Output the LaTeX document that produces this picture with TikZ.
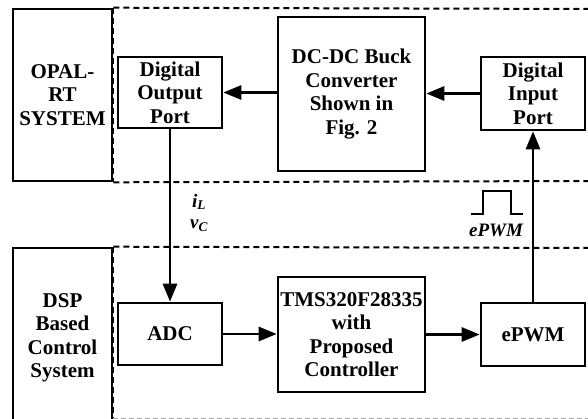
\documentclass[tikz,border=0pt]{standalone}
\usepackage{fontspec}
\setmainfont{Liberation Serif}
\usetikzlibrary{arrows.meta, positioning}
\tikzset{
    blockbox/.style={draw, line width=2.6pt, align=center, inner sep=0pt,
        font=\fontsize{21}{23.5}\selectfont\bfseries},
    sidebox/.style={blockbox, minimum width=99pt},
    portbox/.style={blockbox, minimum width=104pt},
    mainbox/.style={blockbox, minimum width=147pt},
    flowline/.style={line width=2.8pt, -{Triangle[length=18pt, width=14pt]}},
    regionline/.style={line width=2pt, dash pattern=on 6pt off 4pt},
    signallabel/.style={font=\fontsize{19}{19}\selectfont\bfseries\itshape, inner sep=0pt},
}
\begin{document}
\begin{tikzpicture}[x=1pt, y=-1pt]
\clip (0,0) rectangle (588,419);
\fill[white] (0,0) rectangle (588,419);

% upper half
\node[sidebox, minimum height=172pt] (opal) at (62.5,95) {OPAL-\\RT\\SYSTEM};
\node[portbox, minimum height=71pt] (outport) at (170,92.5) {Digital\\Output\\Port};
\node[mainbox, minimum height=154pt] (buck) at (351.5,94) {DC-DC Buck\\Converter\\Shown in\\Fig. 2};
\node[portbox, minimum height=73pt] (inport) at (533,93.5) {Digital\\Input\\Port};

% lower half
\node[sidebox, minimum height=180pt] (dsp) at (62.5,338) {DSP\\Based\\Control\\System};
\node[portbox, minimum height=62pt] (adc) at (170,334) {ADC};
\node[mainbox, minimum height=115pt] (tms) at (351.5,334.5) {TMS320F28335\\with\\Proposed\\Controller};
\node[portbox, minimum height=63pt] (epwm) at (533,334.5) {ePWM};

% dashed regions
\draw[regionline] (opal.north east) -- (590,9);
\draw[regionline] (opal.south east) -- (590,181);
\draw[regionline] (opal.north east) -- (opal.south east);
\draw[regionline] (dsp.north east) -- (590,248);
\draw[regionline] (dsp.north east) -- (dsp.south east);
\draw[line width=1pt, gray!70, dash pattern=on 5pt off 3pt] (dsp.east |- 0,418) -- (590,418);

% connections
\draw[flowline] (inport.west) -- (buck.east |- inport.west);
\draw[flowline] (buck.west |- outport.east) -- (outport.east);
\draw[flowline] (outport.south) -- (adc.north);
\draw[flowline] (adc.east) -- (tms.west |- adc.east);
\draw[flowline] (tms.east |- epwm.west) -- (epwm.west);
\draw[flowline] (epwm.north) -- (inport.south);

% signal labels
\node[signallabel] (il) at (199,202) {i\textsubscript{L}};
\node[signallabel] (vc) at (199,226) {v\textsubscript{C}};
\draw[line width=2pt] (471,214) -- (483,214) -- (483,191) -- (511,191) -- (511,214) -- (523,214);
\node[signallabel] (pwmlabel) at (496,230) {ePWM};
\end{tikzpicture}
\end{document}
